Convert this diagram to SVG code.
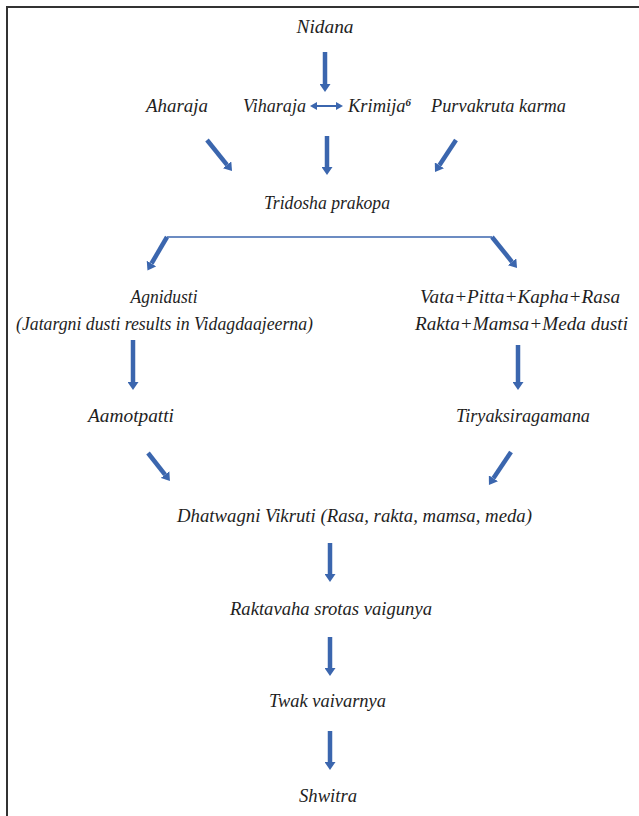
<svg xmlns="http://www.w3.org/2000/svg" width="639" height="816" viewBox="0 0 639 816">
<style>
  .arr { stroke: #3b66ae; stroke-width: 4.5; fill: none; }
  .thin { stroke: #3b66ae; stroke-width: 1.3; fill: none; }
  .dbl { stroke: #3b66ae; stroke-width: 2; fill: none; }
</style>
<defs>
  <marker id="head" markerUnits="userSpaceOnUse" markerWidth="9" markerHeight="11" refX="0" refY="5.5" orient="auto" viewBox="0 0 9 11">
    <path d="M0,0 L8,5.5 L0,11 z" fill="#3b66ae"/>
  </marker>
  <marker id="small" markerUnits="userSpaceOnUse" markerWidth="7" markerHeight="8" refX="0" refY="4" orient="auto-start-reverse" viewBox="0 0 7 8">
    <path d="M0,0 L7,4 L0,8 z" fill="#3b66ae"/>
  </marker>
</defs>
<rect width="639" height="816" fill="#ffffff"/>
<path d="M7,816 L7,7 L639,7" fill="none" stroke="#333333" stroke-width="2"/>

<g id="connectors">
  <line class="arr" x1="325" y1="52" x2="325" y2="84" marker-end="url(#head)"/>
  <line class="dbl" x1="317" y1="106" x2="336" y2="106" marker-start="url(#small)" marker-end="url(#small)"/>
  <line class="arr" x1="207" y1="140" x2="227" y2="164.8" marker-end="url(#head)"/>
  <line class="arr" x1="327" y1="136" x2="327" y2="167" marker-end="url(#head)"/>
  <line class="arr" x1="456" y1="140" x2="439.4" y2="165.3" marker-end="url(#head)"/>
  <line class="thin" x1="167" y1="237" x2="492" y2="237"/>
  <line class="arr" x1="167" y1="237" x2="151.5" y2="263.5" marker-end="url(#head)"/>
  <line class="arr" x1="492" y1="237" x2="512" y2="261.8" marker-end="url(#head)"/>
  <line class="arr" x1="133" y1="340" x2="133" y2="382" marker-end="url(#head)"/>
  <line class="arr" x1="518" y1="345" x2="518" y2="382" marker-end="url(#head)"/>
  <line class="arr" x1="148" y1="453" x2="165" y2="474.6" marker-end="url(#head)"/>
  <line class="arr" x1="511" y1="452" x2="493.4" y2="478.3" marker-end="url(#head)"/>
  <line class="arr" x1="330" y1="543" x2="330" y2="574" marker-end="url(#head)"/>
  <line class="arr" x1="330" y1="637" x2="330" y2="668" marker-end="url(#head)"/>
  <line class="arr" x1="330" y1="731" x2="330" y2="762" marker-end="url(#head)"/>
</g>

<g fill="#1e1e1e" text-anchor="middle">
<g id="nidana"><text x="325" y="33" font-family="Liberation Serif" font-style="italic" font-size="18.5" textLength="57" lengthAdjust="spacingAndGlyphs">Nidana</text></g>
<g id="aharaja"><text x="177" y="112" font-family="Liberation Serif" font-style="italic" font-size="18.5" textLength="62" lengthAdjust="spacingAndGlyphs">Aharaja</text></g>
<g id="viharaja"><text x="274.5" y="112" font-family="Liberation Serif" font-style="italic" font-size="18.5" textLength="63" lengthAdjust="spacingAndGlyphs">Viharaja</text></g>
<g id="krimija"><text x="348" y="112" text-anchor="start" font-family="Liberation Serif" font-style="italic" font-size="18.5">Krimija<tspan font-size="11" dy="-6" font-weight="bold">6</tspan></text></g>
<g id="purvakruta"><text x="498.5" y="112" font-family="Liberation Serif" font-style="italic" font-size="18.5" textLength="135" lengthAdjust="spacingAndGlyphs">Purvakruta karma</text></g>
<g id="tridosha"><text x="327" y="209" font-family="Liberation Serif" font-style="italic" font-size="18.5" textLength="126" lengthAdjust="spacingAndGlyphs">Tridosha prakopa</text></g>
<g id="agnidusti">
  <text x="164" y="303" font-family="Liberation Serif" font-style="italic" font-size="18.5" textLength="67" lengthAdjust="spacingAndGlyphs">Agnidusti</text>
  <text x="164.5" y="330" font-family="Liberation Serif" font-style="italic" font-size="18.5" textLength="297" lengthAdjust="spacingAndGlyphs">(Jatargni dusti results in Vidagdaajeerna)</text>
</g>
<g id="vata">
  <text x="520" y="303" font-family="Liberation Serif" font-style="italic" font-size="18.5" textLength="200" lengthAdjust="spacingAndGlyphs">Vata+Pitta+Kapha+Rasa</text>
  <text x="521.5" y="330" font-family="Liberation Serif" font-style="italic" font-size="18.5" textLength="213" lengthAdjust="spacingAndGlyphs">Rakta+Mamsa+Meda dusti</text>
</g>
<g id="aamotpatti"><text x="131" y="422" font-family="Liberation Serif" font-style="italic" font-size="18.5" textLength="86" lengthAdjust="spacingAndGlyphs">Aamotpatti</text></g>
<g id="tiryak"><text x="523" y="422" font-family="Liberation Serif" font-style="italic" font-size="18.5" textLength="134" lengthAdjust="spacingAndGlyphs">Tiryaksiragamana</text></g>
<g id="dhatwagni"><text x="354.5" y="522" font-family="Liberation Serif" font-style="italic" font-size="18.5" textLength="355" lengthAdjust="spacingAndGlyphs">Dhatwagni Vikruti (Rasa, rakta, mamsa, meda)</text></g>
<g id="raktavaha"><text x="331" y="615" font-family="Liberation Serif" font-style="italic" font-size="18.5" textLength="202" lengthAdjust="spacingAndGlyphs">Raktavaha srotas vaigunya</text></g>
<g id="twak"><text x="327.5" y="707" font-family="Liberation Serif" font-style="italic" font-size="18.5" textLength="117" lengthAdjust="spacingAndGlyphs">Twak vaivarnya</text></g>
<g id="shwitra"><text x="328" y="802" font-family="Liberation Serif" font-style="italic" font-size="18.5" textLength="58" lengthAdjust="spacingAndGlyphs">Shwitra</text></g>
</g>
</svg>
